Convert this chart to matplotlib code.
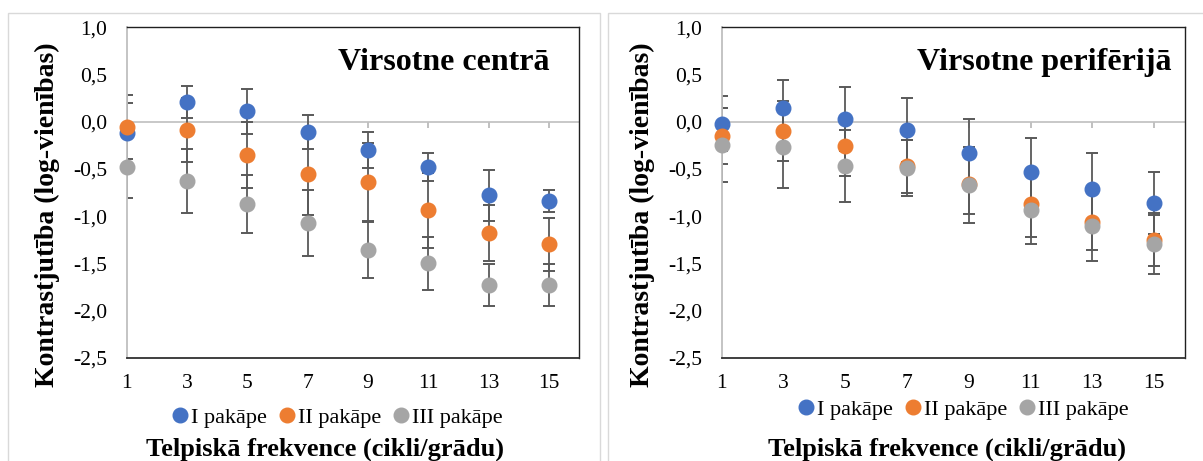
import matplotlib
matplotlib.use("Agg")
import matplotlib.pyplot as plt
from matplotlib.patches import Rectangle
from matplotlib.ticker import FuncFormatter, MultipleLocator

plt.rcParams['font.family'] = ['Liberation Serif', 'DejaVu Serif']

# data (log units)
freq = [1, 3, 5, 7, 9, 11, 13, 15]
series_names = ['I pakāpe', 'II pakāpe', 'III pakāpe']
colors = ['#4472C4', '#ED7D31', '#A5A5A5']

center_I = [-0.12, 0.21, 0.11, -0.11, -0.30, -0.48, -0.78, -0.84]
center_I_err = [0.32, 0.17, 0.24, 0.18, 0.19, 0.15, 0.27, 0.12]
center_II = [-0.06, -0.09, -0.35, -0.55, -0.64, -0.94, -1.18, -1.30]
center_II_err = [0.34, 0.34, 0.35, 0.44, 0.41, 0.40, 0.30, 0.28]
center_III = [-0.48, -0.63, -0.87, -1.07, -1.36, -1.50, -1.73, -1.73]
center_III_err = [0.33, 0.34, 0.31, 0.35, 0.30, 0.28, 0.22, 0.22]

periph_I = [-0.02, 0.15, 0.03, -0.09, -0.33, -0.53, -0.71, -0.86]
periph_I_err = [0.29, 0.29, 0.34, 0.34, 0.36, 0.36, 0.38, 0.33]
periph_II = [-0.15, -0.10, -0.26, -0.47, -0.66, -0.87, -1.06, -1.25]
periph_II_err = [0.30, 0.32, 0.32, 0.28, 0.32, 0.35, 0.30, 0.28]
periph_III = [-0.25, -0.27, -0.47, -0.49, -0.67, -0.94, -1.11, -1.30]
periph_III_err = [0.39, 0.43, 0.38, 0.30, 0.40, 0.36, 0.37, 0.31]

titles = ['Virsotne centrā', 'Virsotne perifērijā']
ylabel = 'Kontrastjutība (log-vienības)'
xlabel = 'Telpiskā frekvence (cikli/grādu)'

W, H = 1203, 461
fig = plt.figure(figsize=(W / 100, H / 100), dpi=100)
fig.set_facecolor('w')

# light chart-area frames
for x0, x1 in [(8, 600), (608, 1210)]:
    fig.patches.append(Rectangle((x0 / W, -0.05), (x1 - x0) / W, 1 - 13 / H + 0.05,
                                 transform=fig.transFigure, fill=False,
                                 edgecolor='#d9d9d9', lw=1))

panels = [
    dict(rect=(126.7, 579.3), data=[(center_I, center_I_err), (center_II, center_II_err),
                                    (center_III, center_III_err)],
         title_x=550, leg=(336, 418), xl=(325, 449)),
    dict(rect=(721.7, 1185), data=[(periph_I, periph_I_err), (periph_II, periph_II_err),
                                   (periph_III, periph_III_err)],
         title_x=1171.7, leg=(962, 410), xl=(947, 449)),
]
top, bottom = 27.3, 357.7
ymin, ymax = -2.5, 1.0
fmt = FuncFormatter(lambda v, p: f'{v:.1f}'.replace('.', ','))

for p, title in zip(panels, titles):
    l, r = p['rect']
    w = r - l
    hh = bottom - top
    ax = fig.add_axes([l / W, 1 - bottom / H, w / W, hh / H])
    ax.set_xlim(1, 16)
    ax.set_ylim(ymin, ymax)

    for (vals, err), c, name in zip(p['data'], colors, series_names):
        ax.errorbar(freq, vals, yerr=err, fmt='none', ecolor='#595959',
                    elinewidth=1.3, capsize=4.6, capthick=1.4, zorder=2)
    for (vals, err), c, name in zip(p['data'], colors, series_names):
        ax.plot(freq, vals, 'o', color=c, ms=10.5, mec=c, clip_on=False,
                zorder=3, label=name)

    # horizontal axis line crossing at 0 with small tick marks hanging below it
    tick_len = 6 / hh * (ymax - ymin)
    ax.axhline(0, color='#c8c8c8', lw=1.4, zorder=1)
    ax.vlines(freq, -tick_len, 0, colors='#c0c0c0', lw=1.4, zorder=1)

    ax.set_xticks(freq)
    ax.yaxis.set_major_locator(MultipleLocator(0.5))
    ax.yaxis.set_major_formatter(fmt)
    ax.tick_params(axis='x', length=0, pad=12, labelsize=15.5)
    ax.tick_params(axis='y', length=0, pad=14, labelsize=15.5)

    for s in ['top', 'right']:
        ax.spines[s].set_color('#202020')
        ax.spines[s].set_linewidth(1.0)
    ax.spines['bottom'].set_color('#303030')
    ax.spines['bottom'].set_linewidth(1.3)
    ax.spines['left'].set_color('#bfbfbf')
    ax.spines['left'].set_linewidth(1.3)

    ax.text((p['title_x'] - l) / w, (bottom - 62.5) / hh, title, transform=ax.transAxes,
            ha='right', va='center', fontsize=23, fontweight='bold')

    ax.set_ylabel(ylabel, fontsize=20, fontweight='bold', va='center')
    ax.yaxis.set_label_coords(-79 / w, (bottom - 215) / hh)
    ax.set_xlabel(xlabel, fontsize=19, fontweight='bold', va='center')
    ax.xaxis.set_label_coords((p['xl'][0] - l) / w, -(p['xl'][1] - bottom) / hh)

    lx, ly = p['leg']
    ax.legend(loc='center', bbox_to_anchor=((lx - l) / w, -(ly - bottom) / hh),
              ncol=3, frameon=False, fontsize=16, handletextpad=0.0,
              columnspacing=0.4, handlelength=1.0, borderaxespad=0)

fig.savefig('out.png', dpi=100)
